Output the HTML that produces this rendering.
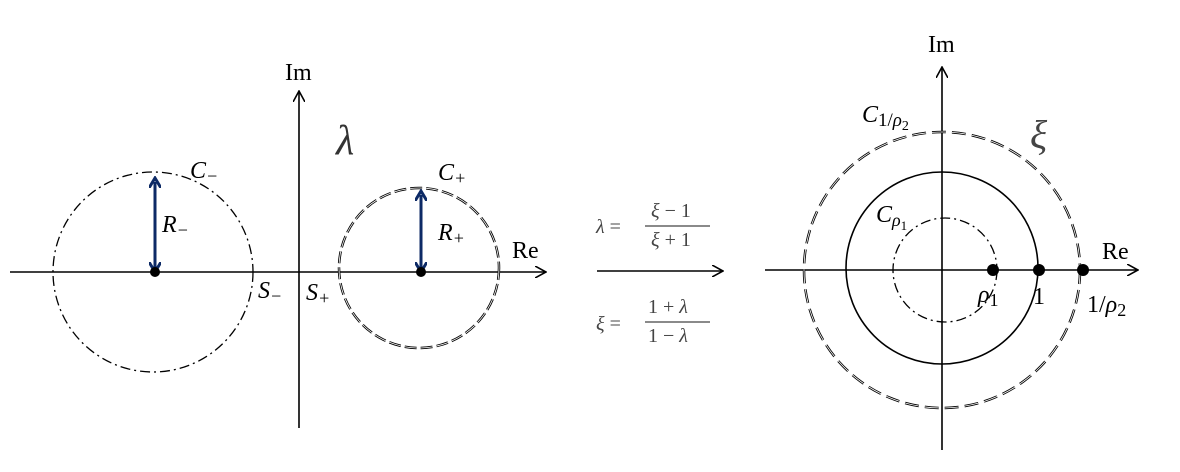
<!DOCTYPE html>
<html><head><style>
body{margin:0;background:#fff}
svg text{font-family:"Liberation Serif",serif}
</style></head><body>
<svg width="1180" height="467" viewBox="0 0 1180 467" xmlns="http://www.w3.org/2000/svg">
<defs>
<marker id="a" markerWidth="12" markerHeight="12" refX="10" refY="6" orient="auto" markerUnits="userSpaceOnUse"><path d="M0,0 L11,6 L0,12" fill="none" stroke="#000" stroke-width="1.6"/></marker>
<marker id="b" markerWidth="12" markerHeight="12" refX="6" refY="6" orient="auto-start-reverse" markerUnits="userSpaceOnUse"><path d="M0,0 L10,6 L0,12" fill="none" stroke="#0d2a66" stroke-width="3"/></marker>
</defs>
<g stroke="#000" stroke-width="1.6" fill="none">
<line x1="10" y1="272" x2="545" y2="272" marker-end="url(#a)"/>
<line x1="299" y1="428" x2="299" y2="92" marker-end="url(#a)"/>
<circle cx="153" cy="272" r="100" stroke-dasharray="10,4,2,4" stroke-width="1.3"/>
<circle cx="419" cy="268" r="80" stroke-dasharray="12,4" stroke-width="2.5"/>
<circle cx="419" cy="268" r="80" stroke="#fff" stroke-dasharray="12,4" stroke-width="0.8"/>
<line x1="597" y1="271" x2="722" y2="271" marker-end="url(#a)"/>
<line x1="765" y1="270" x2="1137" y2="270" marker-end="url(#a)"/>
<line x1="942" y1="450" x2="942" y2="68" marker-end="url(#a)"/>
<circle cx="942" cy="270" r="138" stroke-dasharray="14,6" stroke-width="2.5"/>
<circle cx="942" cy="270" r="138" stroke="#fff" stroke-dasharray="14,6" stroke-width="0.8"/>
<circle cx="942" cy="268" r="96"/>
<circle cx="945" cy="270" r="52" stroke-dasharray="10,4,2,4" stroke-width="1.3"/>
</g>
<g stroke="#0d2a66" stroke-width="3">
<line x1="155" y1="268" x2="155" y2="182" marker-end="url(#b)" marker-start="url(#b)"/>
<line x1="421" y1="268" x2="421" y2="195" marker-end="url(#b)" marker-start="url(#b)"/>
</g>
<g fill="#000">
<circle cx="155" cy="272" r="5"/><circle cx="421" cy="272" r="5"/>
<circle cx="993" cy="270" r="6"/><circle cx="1039" cy="270" r="6"/><circle cx="1083" cy="270" r="6"/>
</g>
<g font-size="24">
<text x="285" y="80">Im</text>
<text x="512" y="258">Re</text>
<text x="928" y="52">Im</text>
<text x="1102" y="259">Re</text>
</g>
<g font-size="24" font-style="italic">
<text x="336" y="154" font-size="42" fill="#333">λ</text>
<text x="190" y="178">C<tspan font-size="18" dy="4">−</tspan></text>
<text x="162" y="232">R<tspan font-size="18" dy="4">−</tspan></text>
<text x="438" y="180">C<tspan font-size="18" dy="4">+</tspan></text>
<text x="438" y="240">R<tspan font-size="18" dy="4">+</tspan></text>
<text x="258" y="298">S<tspan font-size="18" dy="4">−</tspan></text>
<text x="306" y="300">S<tspan font-size="18" dy="4">+</tspan></text>
<text x="862" y="122">C<tspan font-size="19" dy="4" font-style="normal">1/<tspan font-style="italic">ρ</tspan><tspan font-size="14" dy="4">2</tspan></tspan></text>
<text x="1030" y="148" font-size="40" fill="#444">ξ</text>
<text x="876" y="222">C<tspan font-size="18" dy="4">ρ</tspan><tspan font-size="13" dy="4" font-style="normal">1</tspan></text>
<text x="978" y="302">ρ<tspan font-size="18" dy="4" font-style="normal">1</tspan></text>
<text x="1033" y="304" font-style="normal">1</text>
<text x="1087" y="312" font-style="normal">1/<tspan font-style="italic">ρ</tspan><tspan font-size="18" dy="4">2</tspan></text>
</g>
<g font-size="20" fill="#444">
<text x="596" y="233"><tspan font-style="italic">λ</tspan> =</text>
<text x="651" y="217"><tspan font-style="italic">ξ</tspan> − 1</text>
<line x1="645" y1="226" x2="710" y2="226" stroke="#444" stroke-width="1.2"/>
<text x="651" y="246"><tspan font-style="italic">ξ</tspan> + 1</text>
<text x="596" y="330"><tspan font-style="italic">ξ</tspan> =</text>
<text x="648" y="313">1 + <tspan font-style="italic">λ</tspan></text>
<line x1="645" y1="322" x2="710" y2="322" stroke="#444" stroke-width="1.2"/>
<text x="648" y="342">1 − <tspan font-style="italic">λ</tspan></text>
</g>
</svg>
</body></html>
